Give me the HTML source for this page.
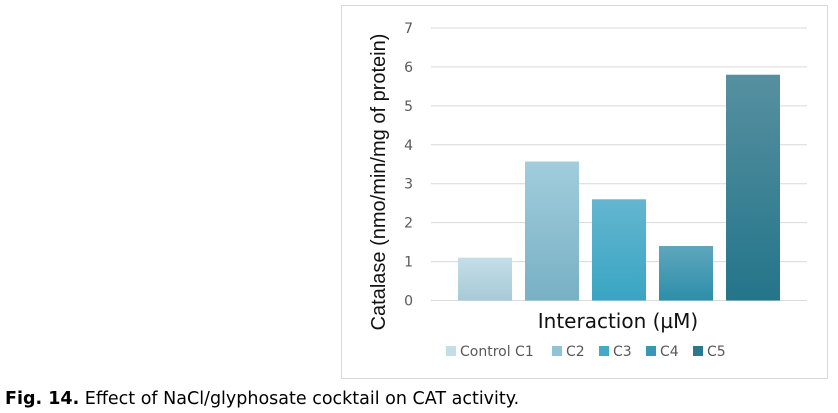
<!DOCTYPE html>
<html><head><meta charset="utf-8"><style>
body{margin:0;width:838px;height:413px;background:#fff;overflow:hidden;font-family:"DejaVu Sans","Liberation Sans",sans-serif}
#frame{position:absolute;left:341px;top:5px;width:487px;height:374px;border:1px solid #d9d9d9;box-sizing:border-box}
#cap{position:absolute;left:5px;top:389px;font-size:17.5px;color:#000}
</style></head><body>
<div id="frame"></div>
<svg id="chart" width="838" height="413" style="position:absolute;left:0;top:0">
<defs>
<linearGradient id="g0" x1="0" y1="0" x2="0" y2="1"><stop offset="0" stop-color="#c4dee8"/><stop offset="1" stop-color="#a7cad7"/></linearGradient>
<linearGradient id="g1" x1="0" y1="0" x2="0" y2="1"><stop offset="0" stop-color="#a1cddd"/><stop offset="1" stop-color="#78b0c4"/></linearGradient>
<linearGradient id="g2" x1="0" y1="0" x2="0" y2="1"><stop offset="0" stop-color="#64b6cf"/><stop offset="1" stop-color="#38a5c3"/></linearGradient>
<linearGradient id="g3" x1="0" y1="0" x2="0" y2="1"><stop offset="0" stop-color="#5ea6bd"/><stop offset="1" stop-color="#2d8ea9"/></linearGradient>
<linearGradient id="g4" x1="0" y1="0" x2="0" y2="1"><stop offset="0" stop-color="#5690a0"/><stop offset="1" stop-color="#24758a"/></linearGradient>
</defs>
<g id="grid"></g><g id="bars"></g><g id="legend"></g>
<text x="385" y="182" transform="rotate(-90 385 182)" text-anchor="middle" font-size="20" fill="#111" font-family="Liberation Sans, sans-serif">Catalase (nmo/min/mg  of protein)</text>
<text x="618" y="328" text-anchor="middle" font-size="20" fill="#111">Interaction (µM)</text>
</svg>
<div id="cap"><b>Fig. 14.</b> Effect of NaCl/glyphosate cocktail on CAT activity.</div>
<script>
const categories=["Control C1","C2","C3","C4","C5"];
const values=[1.1,3.57,2.6,1.4,5.8];
const ticks=[0,1,2,3,4,5,6,7];
const ns="http://www.w3.org/2000/svg";
const y0=300.5,y7=28,left=431,right=807,bx0=458,bstep=67,bw=54;
function y(v){return y0-(y0-y7)*v/7;}
const grid=document.getElementById('grid');
ticks.forEach(t=>{
 const l=document.createElementNS(ns,'line');
 l.setAttribute('x1',left);l.setAttribute('x2',right);l.setAttribute('y1',y(t));l.setAttribute('y2',y(t));
 l.setAttribute('stroke','#d9d9d9');l.setAttribute('stroke-width','1');
 
 
 grid.appendChild(l);
 const tx=document.createElementNS(ns,'text');
 tx.setAttribute('x',413);tx.setAttribute('y',y(t)+5);tx.setAttribute('text-anchor','end');
 tx.setAttribute('font-size','14');tx.setAttribute('fill','#595959');tx.textContent=t;
 
 
 grid.appendChild(tx);
});
const bars=document.getElementById('bars');
values.forEach((v,i)=>{
 const r=document.createElementNS(ns,'rect');
 r.setAttribute('x',bx0+i*bstep);r.setAttribute('width',bw);
 r.setAttribute('y',y(v));r.setAttribute('height',y0-y(v));
 r.setAttribute('fill','url(#g'+i+')');
 
 
 bars.appendChild(r);
});
const lg=document.getElementById('legend');
const lx=[446,552,599,646,693];
const swc=['#c4dee8','#8fc3d6','#3fabc8','#3997b3','#2a7a8f'];
categories.forEach((c,i)=>{
 const s=document.createElementNS(ns,'rect');
 s.setAttribute('x',lx[i]);s.setAttribute('y',346);s.setAttribute('width',10);s.setAttribute('height',10);
 s.setAttribute('fill',swc[i]);
 
 
 lg.appendChild(s);
 const t=document.createElementNS(ns,'text');
 t.setAttribute('x',lx[i]+14);t.setAttribute('y',356);t.setAttribute('font-size','14');t.setAttribute('fill','#595959');
 t.textContent=c;
 
 
 lg.appendChild(t);
});
</script>
</body></html>
